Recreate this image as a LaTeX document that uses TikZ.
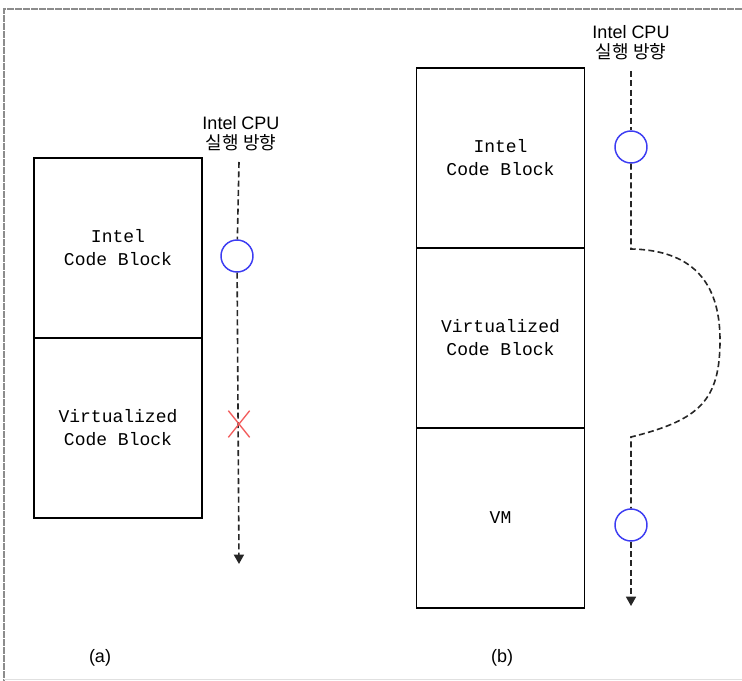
\documentclass[tikz,border=0pt]{standalone}
\usepackage{fontspec}
\setmainfont{Liberation Sans}
\setmonofont{Liberation Mono}
\newfontfamily\kofont{Noto Sans CJK KR}
\usepackage{xcolor}
\usetikzlibrary{arrows.meta,shapes.misc}
\definecolor{vmblue}{HTML}{3C3CF2}
\definecolor{vmred}{HTML}{F25C5C}
\definecolor{vmframe}{HTML}{8C8C8C}
\definecolor{vmdash}{HTML}{262626}

\begin{document}
\begin{tikzpicture}[x=0.75pt, y=-0.75pt,
  block/.style={draw=black, line width=1pt, minimum width=126pt, minimum height=135pt, inner sep=0pt, align=center, font=\fontsize{13.5}{17.25}\selectfont\ttfamily},
  cpulabel/.style={align=center, inner sep=0pt, font=\fontsize{13.5}{15}\selectfont},
  runmark/.style={circle, draw=vmblue, line width=1.1pt, minimum size=24pt, inner sep=0pt},
  stopmark/.style={cross out, draw=vmred, line width=1pt, minimum width=15pt, minimum height=19pt, inner sep=0pt},
  flow/.style={draw=vmdash, line width=1.2pt, dash pattern=on 4.5pt off 2.5pt},
  tip/.style={-{Triangle[width=7.5pt,length=7pt]}},
  caption/.style={inner sep=0pt, font=\fontsize{13.5}{15}\selectfont}]
  \useasboundingbox (0,0) rectangle (742,681);

  % frame
  \draw[vmframe, line width=0.9pt, dash pattern=on 5pt off 1pt] (742,9) -- (4,9) -- (4,681);
  \draw[black!12, line width=0.75pt] (4,679) -- (742,679);

  % (a) blocks
  \node[block] (a-intel) at (118,248) {Intel\\Code Block};
  \node[block] (a-virt) at (118,428) {Virtualized\\Code Block};
  \node[cpulabel] (a-cpu) at (241,134) {Intel CPU\\{\kofont 실행 방향}};

  % (a) execution path
  \coordinate (a-top) at (239,162);
  \coordinate (a-end) at (239,564);
  \node[runmark] (a-run) at (237,256) {};
  \draw[flow] (a-top) -- (a-run);
  \draw[flow, tip] (a-run) -- (a-end);
  \node[stopmark] (a-stop) at (239,424) {};
  \node[caption] (a-cap) at (100,658) {(a)};

  % (b) blocks
  \node[block] (b-intel) at (500.5,158) {Intel\\Code Block};
  \node[block] (b-virt) at (500.5,338) {Virtualized\\Code Block};
  \node[block] (b-vm) at (500.5,518) {VM};
  \node[cpulabel] (b-cpu) at (631,43) {Intel CPU\\{\kofont 실행 방향}};

  % (b) execution path, detours round the virtualized block
  \coordinate (b-top) at (631,71);
  \coordinate (b-out) at (631,249);
  \coordinate (b-far) at (720,340);
  \coordinate (b-back) at (631,437);
  \coordinate (b-end) at (631,606);
  \node[runmark] (b-run1) at (631,147) {};
  \node[runmark] (b-run2) at (631,525) {};
  \draw[flow] (b-top) -- (b-run1);
  \draw[flow] (b-run1) -- (b-out) .. controls (690,250) and (720,280) .. (b-far)
    .. controls (720,400) and (700,420) .. (b-back) -- (b-run2);
  \draw[flow, tip] (b-run2) -- (b-end);
  \node[caption] (b-cap) at (502,658) {(b)};
\end{tikzpicture}
\end{document}
